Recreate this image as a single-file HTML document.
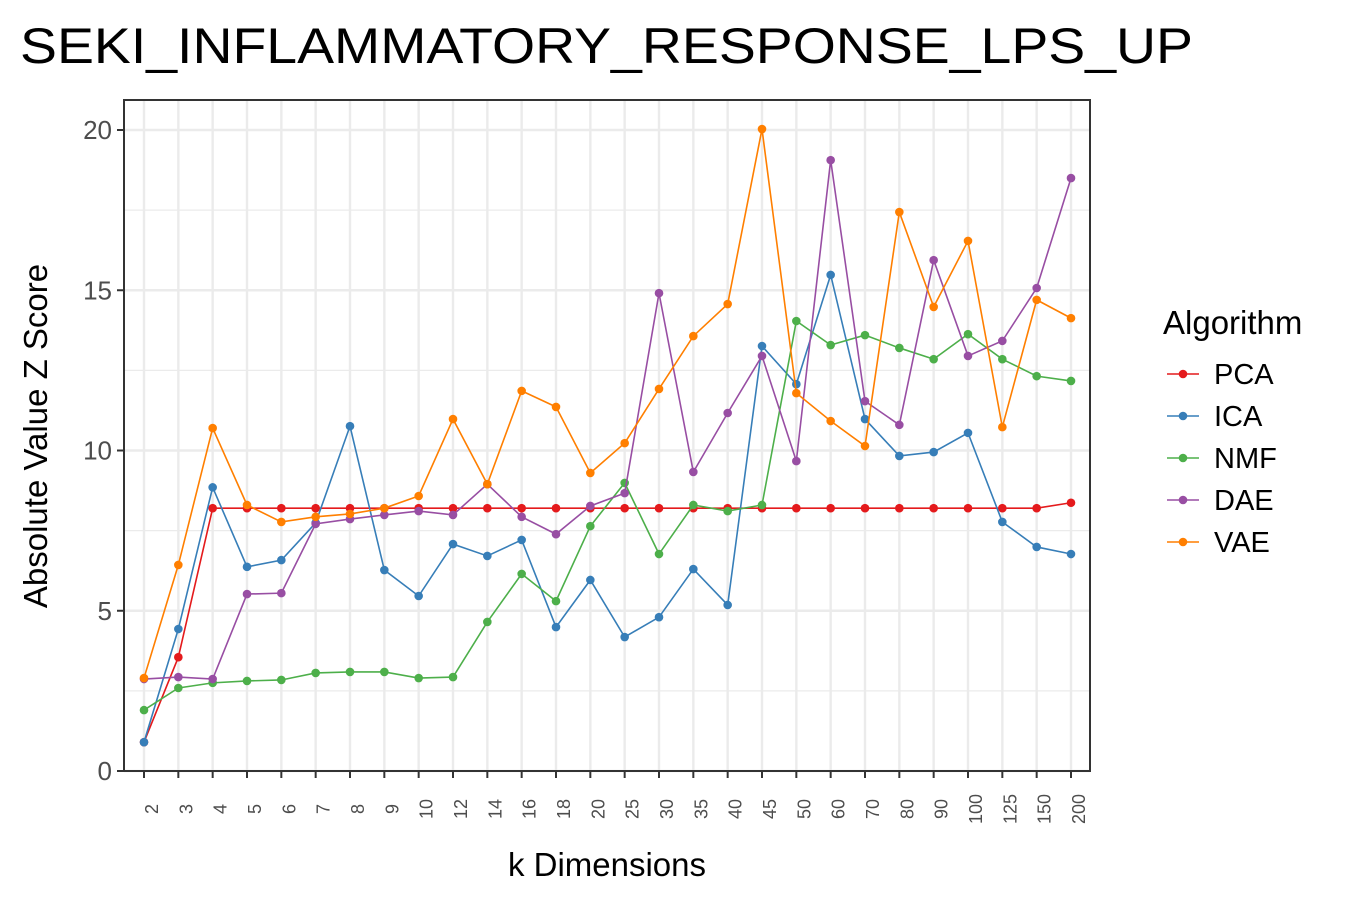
<!DOCTYPE html>
<html><head><meta charset="utf-8"><style>
body{margin:0;background:#fff;font-family:"Liberation Sans",Arial,sans-serif}
</style></head><body>
<svg id="chart" width="1350" height="900" xmlns="http://www.w3.org/2000/svg" font-family="Liberation Sans, Arial, sans-serif">
<rect width="1350" height="900" fill="#fff"/>
<text x="20" y="63" font-size="50" textLength="1173" lengthAdjust="spacingAndGlyphs" fill="#000">SEKI_INFLAMMATORY_RESPONSE_LPS_UP</text>
<g id="grid"></g><g id="series"></g><g id="axes"></g><g id="legend"></g>
<text x="607" y="876" font-size="33" text-anchor="middle">k Dimensions</text>
<text transform="translate(47,436) rotate(-90)" font-size="33" text-anchor="middle">Absolute Value Z Score</text>
</svg>
<script>
const categories=["2","3","4","5","6","7","8","9","10","12","14","16","18","20","25","30","35","40","45","50","60","70","80","90","100","125","150","200"];
const seriesNames=["PCA","ICA","NMF","DAE","VAE"];
const seriesColors=["#e41a1c","#377eb8","#4daf4a","#984ea3","#ff7f00"];
const pcaValues=[0.9,3.55,8.2,8.2,8.2,8.2,8.2,8.2,8.2,8.2,8.2,8.2,8.2,8.2,8.2,8.2,8.2,8.2,8.2,8.2,8.2,8.2,8.2,8.2,8.2,8.2,8.2,8.37];
const icaValues=[0.9,4.43,8.85,6.37,6.58,7.74,10.76,6.27,5.46,7.08,6.71,7.21,4.49,5.96,4.18,4.8,6.3,5.18,13.26,12.07,15.48,10.98,9.83,9.95,10.55,7.77,6.99,6.77];
const nmfValues=[1.9,2.59,2.75,2.81,2.84,3.06,3.09,3.09,2.9,2.93,4.65,6.15,5.3,7.64,8.99,6.77,8.3,8.11,8.3,14.04,13.29,13.6,13.2,12.85,13.63,12.85,12.32,12.17];
const daeValues=[2.87,2.93,2.87,5.52,5.55,7.71,7.86,7.99,8.11,7.99,8.95,7.93,7.39,8.27,8.67,14.91,9.33,11.17,12.95,9.67,19.06,11.54,10.8,15.94,12.95,13.42,15.07,18.5];
const vaeValues=[2.9,6.43,10.7,8.3,7.77,7.93,8.02,8.2,8.58,10.98,8.95,11.86,11.36,9.3,10.23,11.92,13.57,14.57,20.03,11.79,10.92,10.14,17.44,14.48,16.54,10.73,14.7,14.13];
const yTicks=[0,5,10,15,20];
const allSeries=[pcaValues,icaValues,nmfValues,daeValues,vaeValues];
const NS="http://www.w3.org/2000/svg";
const L=124,R=1090,T=100,B=771;
const x=i=>144+i*(1071-144)/(categories.length-1);
const y=v=>771-v*(771-130)/20;
function mk(tag,attrs,parent){const e=document.createElementNS(NS,tag);for(const k in attrs)e.setAttribute(k,attrs[k]);parent.appendChild(e);return e;}
const grid=document.getElementById('grid'),axes=document.getElementById('axes'),ser=document.getElementById('series'),leg=document.getElementById('legend');
for(let v=2.5;v<20;v+=5){const g=mk('line',{x1:L,x2:R,y1:y(v),y2:y(v),stroke:'#ebebeb','stroke-width':1.2},grid);}
yTicks.forEach(v=>{const g=mk('line',{x1:L,x2:R,y1:y(v),y2:y(v),stroke:'#ebebeb','stroke-width':2.4},grid);
const t=mk('line',{x1:L-7,x2:L,y1:y(v),y2:y(v),stroke:'#333','stroke-width':2},axes);
const lb=mk('text',{x:L-12,y:y(v)+9,'font-size':26,fill:'#4d4d4d','text-anchor':'end'},axes);lb.textContent=v;});
categories.forEach((c,i)=>{const g=mk('line',{x1:x(i),x2:x(i),y1:T,y2:B,stroke:'#ebebeb','stroke-width':2.4},grid);
const t=mk('line',{x1:x(i),x2:x(i),y1:B,y2:B+7,stroke:'#333','stroke-width':2},axes);
const lb=mk('text',{transform:`translate(${x(i)+14},809) rotate(-90)`,'font-size':18,fill:'#4d4d4d','text-anchor':'middle'},axes);lb.textContent=c;});
const frame=mk('rect',{x:L,y:T,width:R-L,height:B-T,fill:'none',stroke:'#333','stroke-width':2},axes);

allSeries.forEach((vals,s)=>{const g=mk('g',{},ser);
mk('polyline',{points:vals.map((v,i)=>x(i)+','+y(v)).join(' '),fill:'none',stroke:seriesColors[s],'stroke-width':1.6},g);
vals.forEach((v,i)=>{const p=mk('circle',{cx:x(i),cy:y(v),r:4.3,fill:seriesColors[s]},g);});});
const lt=mk('text',{x:1163,y:334,'font-size':33},leg);lt.textContent='Algorithm';
seriesNames.forEach((n,s)=>{const yy=374+s*42;const g=mk('g',{},leg);
mk('line',{x1:1167,x2:1199,y1:yy,y2:yy,stroke:seriesColors[s],'stroke-width':1.6},g);mk('circle',{cx:1183,cy:yy,r:4.3,fill:seriesColors[s]},g);
const t=mk('text',{x:1214,y:yy+10,'font-size':29},g);t.textContent=n;});
</script>
</body></html>
